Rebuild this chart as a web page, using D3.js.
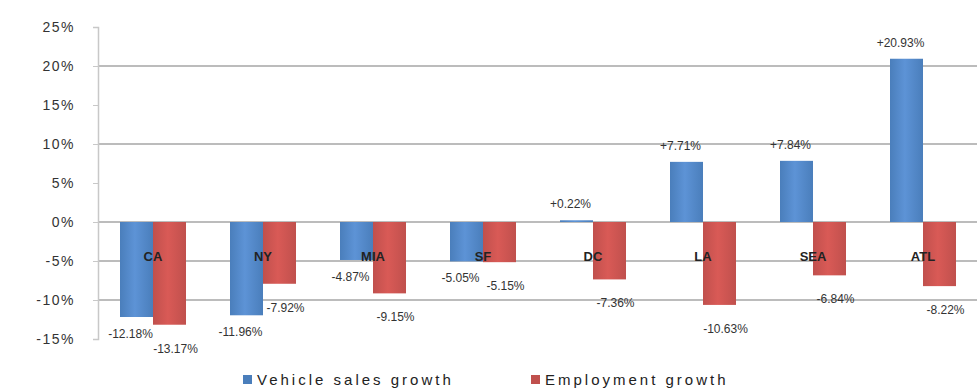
<!DOCTYPE html>
<html>
<head>
<meta charset="utf-8">
<script src="https://cdn.jsdelivr.net/npm/d3@7"></script>
<style>
  html, body { margin: 0; padding: 0; background: #fff; }
  svg { display: block; font-family: Arial, "Liberation Sans", sans-serif; }
</style>
</head>
<body>
<svg id="chart" width="977" height="390"></svg>
<script>
// Categories and the two growth series (percent)
const categories = ["CA", "NY", "MIA", "SF", "DC", "LA", "SEA", "ATL"];
const vehicleSales = [-12.18, -11.96, -4.87, -5.05, 0.22, 7.71, 7.84, 20.93];
const employment = [-13.17, -7.92, -9.15, -5.15, -7.36, -10.63, -6.84, -8.22];
const seriesNames = ["Vehicle sales growth", "Employment growth"];
const yTicks = [25, 20, 15, 10, 5, 0, -5, -10, -15];
const gridValues = [20, 10, 0, -5, -10];

const colors = ["#4a7ebb", "#c0504d"];
const light = ["#5d93d6", "#d95a56"];

const svg = d3.select("#chart");
const plotLeft = 98, plotRight = 978, plotTop = 27, plotBottom = 339;

const x = d3.scaleBand().domain(categories).range([plotLeft, plotRight])
  .paddingInner(0.4).paddingOuter(0.2);
const xs = d3.scaleBand().domain([0, 1]).range([0, x.bandwidth()]);
const y = d3.scaleLinear().domain([-15, 25]).range([plotBottom, plotTop]);

// Horizontal bevel gradients for the bars
const defs = svg.append("defs");
colors.forEach((c, i) => {
  const g = defs.append("linearGradient").attr("id", "grad" + i)
    .attr("x1", "0%").attr("x2", "100%").attr("y1", "0%").attr("y2", "0%");
  g.append("stop").attr("offset", "0%").attr("stop-color", c);
  g.append("stop").attr("offset", "45%").attr("stop-color", light[i]);
  g.append("stop").attr("offset", "100%").attr("stop-color", c);
});

// Gridlines
svg.append("g").selectAll("line").data(gridValues).join("line")
  .attr("x1", plotLeft).attr("x2", plotRight)
  .attr("y1", d => y(d)).attr("y2", d => y(d))
  .attr("stroke", "#a6a6a6").attr("stroke-width", 1.5);

// Y axis
const yAxis = d3.axisLeft(y).tickValues(yTicks).tickFormat(d => d + "%").tickSize(5).tickPadding(18);
const ya = svg.append("g").attr("transform", `translate(${plotLeft},0)`).call(yAxis);
ya.select(".domain").attr("stroke", "#c8c8c8").attr("stroke-width", 1.5);
ya.selectAll(".tick line").attr("stroke", "#c8c8c8");
ya.selectAll(".tick text").attr("font-size", 14).attr("fill", "#333")
  .attr("font-family", "Arial, 'Liberation Sans', sans-serif").attr("letter-spacing", 1.5);

const series = [vehicleSales, employment];

// Bars
series.forEach((vals, si) => {
  svg.append("g").selectAll("rect").data(vals).join("rect")
    .attr("x", (d, i) => x(categories[i]) + xs(si))
    .attr("width", xs.bandwidth())
    .attr("y", d => y(Math.max(0, d)))
    .attr("height", d => Math.abs(y(d) - y(0)))
    .attr("fill", `url(#grad${si})`);
});

// Category labels
svg.append("g").selectAll("text").data(categories).join("text")
  .attr("x", d => x(d) + x.bandwidth() / 2)
  .attr("y", 261)
  .attr("text-anchor", "middle")
  .attr("font-size", 13).attr("font-weight", "bold").attr("fill", "#222")
  .text(d => d);

// Value labels: blue ones lean left, red ones lean right and sit a little lower
const fmt = v => (v > 0 ? "+" : "") + v.toFixed(2) + "%";
const labelShiftX = [-6, 6];
const labelDropNeg = [21, 28];
series.forEach((vals, si) => {
  svg.append("g").selectAll("text").data(vals).join("text")
    .attr("x", (d, i) => x(categories[i]) + xs(si) + xs.bandwidth() / 2 + labelShiftX[si])
    .attr("y", d => d >= 0 ? y(d) - 12 : y(d) + labelDropNeg[si])
    .attr("text-anchor", "middle")
    .attr("font-size", 12).attr("fill", "#333")
    .text(fmt);
});

// Legend
const legend = svg.append("g").attr("transform", "translate(243,380)");
const legendX = [0, 288];
seriesNames.forEach((name, i) => {
  const g = legend.append("g").attr("transform", `translate(${legendX[i]},0)`);
  g.append("rect").attr("x", 0).attr("y", -5).attr("width", 9).attr("height", 9).attr("fill", colors[i]);
  g.append("text").attr("x", 14).attr("y", 5).attr("font-size", 15).attr("fill", "#222")
    .attr("letter-spacing", 3).text(name);
});
</script>
</body>
</html>
